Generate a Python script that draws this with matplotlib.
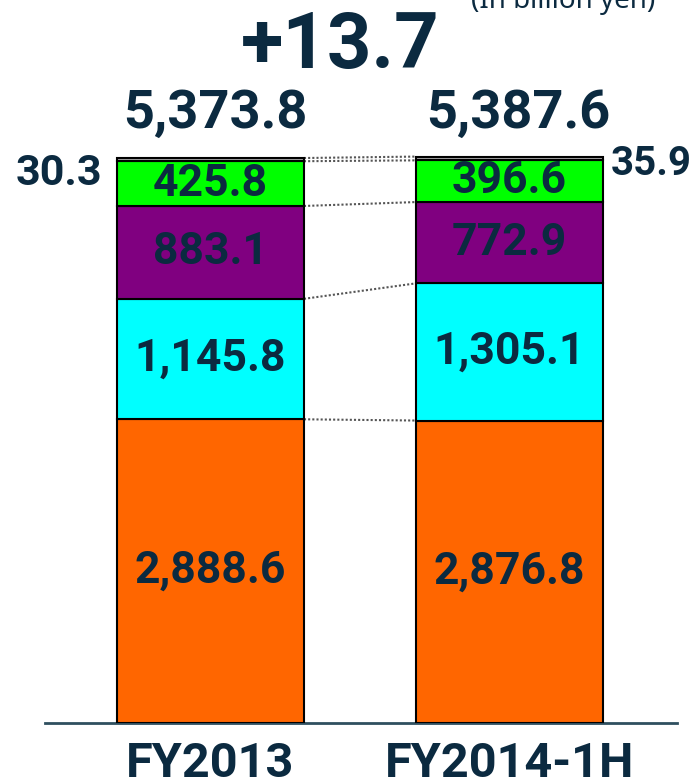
import matplotlib.pyplot as plt

categories = ["FY2013", "FY2014-1H"]
# segments from bottom to top
orange_vals = [2888.6, 2876.8]
cyan_vals = [1145.8, 1305.1]
purple_vals = [883.1, 772.9]
green_vals = [425.8, 396.6]
gray_vals = [30.3, 35.9]
totals = [5373.8, 5387.6]
change_label = "+13.7"

segments = [orange_vals, cyan_vals, purple_vals, green_vals, gray_vals]
colors = ["#FF6600", "#00FFFF", "#800080", "#00FF00", "#A6A6A6"]
txt = "#0B2A40"

plt.rcParams["font.family"] = ["Roboto", "DejaVu Sans"]

fig = plt.figure(figsize=(6.96, 7.83), dpi=100)
W, H = 696, 783
ax = fig.add_axes([45 / W, (H - 723) / H, 632 / W, 583 / H])
scale = 565 / 5373.8  # pixels per billion yen
ax.set_ylim(0, 583 / scale)
ax.set_xlim(-0.5535, 1.560)
bw = 0.625
x = [0, 1]


def ypix(p):
    # pixel row from top -> data y
    return (723 - p) / scale


bottoms = [0, 0]
bounds = []
for vals, c in zip(segments, colors):
    ax.bar(x, vals, bw, bottom=bottoms, color=c, edgecolor="black", linewidth=1.5, zorder=3)
    bottoms = [b + v for b, v in zip(bottoms, vals)]
    bounds.append(list(bottoms))

# dotted connectors between bars
for b in bounds:
    ax.plot([bw / 2, 1 - bw / 2], b, ls=(0, (1, 1)), color="#555555", lw=1.5, zorder=2)

# segment labels (skip tiny top segment)
bottoms = [0, 0]
for vals in segments[:4]:
    for i in range(2):
        ax.text(x[i], bottoms[i] + vals[i] / 2, f"{vals[i]:,.1f}", ha="center", va="center",
                fontsize=32, fontweight="bold", color=txt, zorder=4)
    bottoms = [b + v for b, v in zip(bottoms, vals)]

ax.text(-0.363, ypix(185), f"{gray_vals[0]:.1f}", ha="right", va="baseline", fontsize=31,
        fontweight="bold", color=txt, clip_on=False)
ax.text(1.337, ypix(175), f"{gray_vals[1]:.1f}", ha="left", va="baseline", fontsize=29,
        fontweight="bold", color=txt, clip_on=False)

for xi, t in zip([0.015, 1.028], totals):
    ax.text(xi, ypix(128), f"{t:,.1f}", ha="center", va="baseline", fontsize=39,
            fontweight="bold", color=txt, clip_on=False)

ax.text(0.433, ypix(68), change_label, ha="center", va="baseline", fontsize=56,
        fontweight="bold", color=txt, clip_on=False)
fig.text(655 / W, 1 - 1 / H, "(In billion yen)", ha="right", va="center", fontsize=20,
         color=txt, family=["Noto Sans", "DejaVu Sans"])

ax.set_xticks(x)
ax.set_xticklabels(categories, fontsize=35, fontweight="bold", color=txt)
ax.tick_params(axis="x", length=0, pad=13)
ax.set_yticks([])
for s in ["top", "right", "left"]:
    ax.spines[s].set_visible(False)
ax.spines["bottom"].set_color("#2F4F5F")
ax.spines["bottom"].set_linewidth(2)

fig.savefig("out.png", dpi=100)
